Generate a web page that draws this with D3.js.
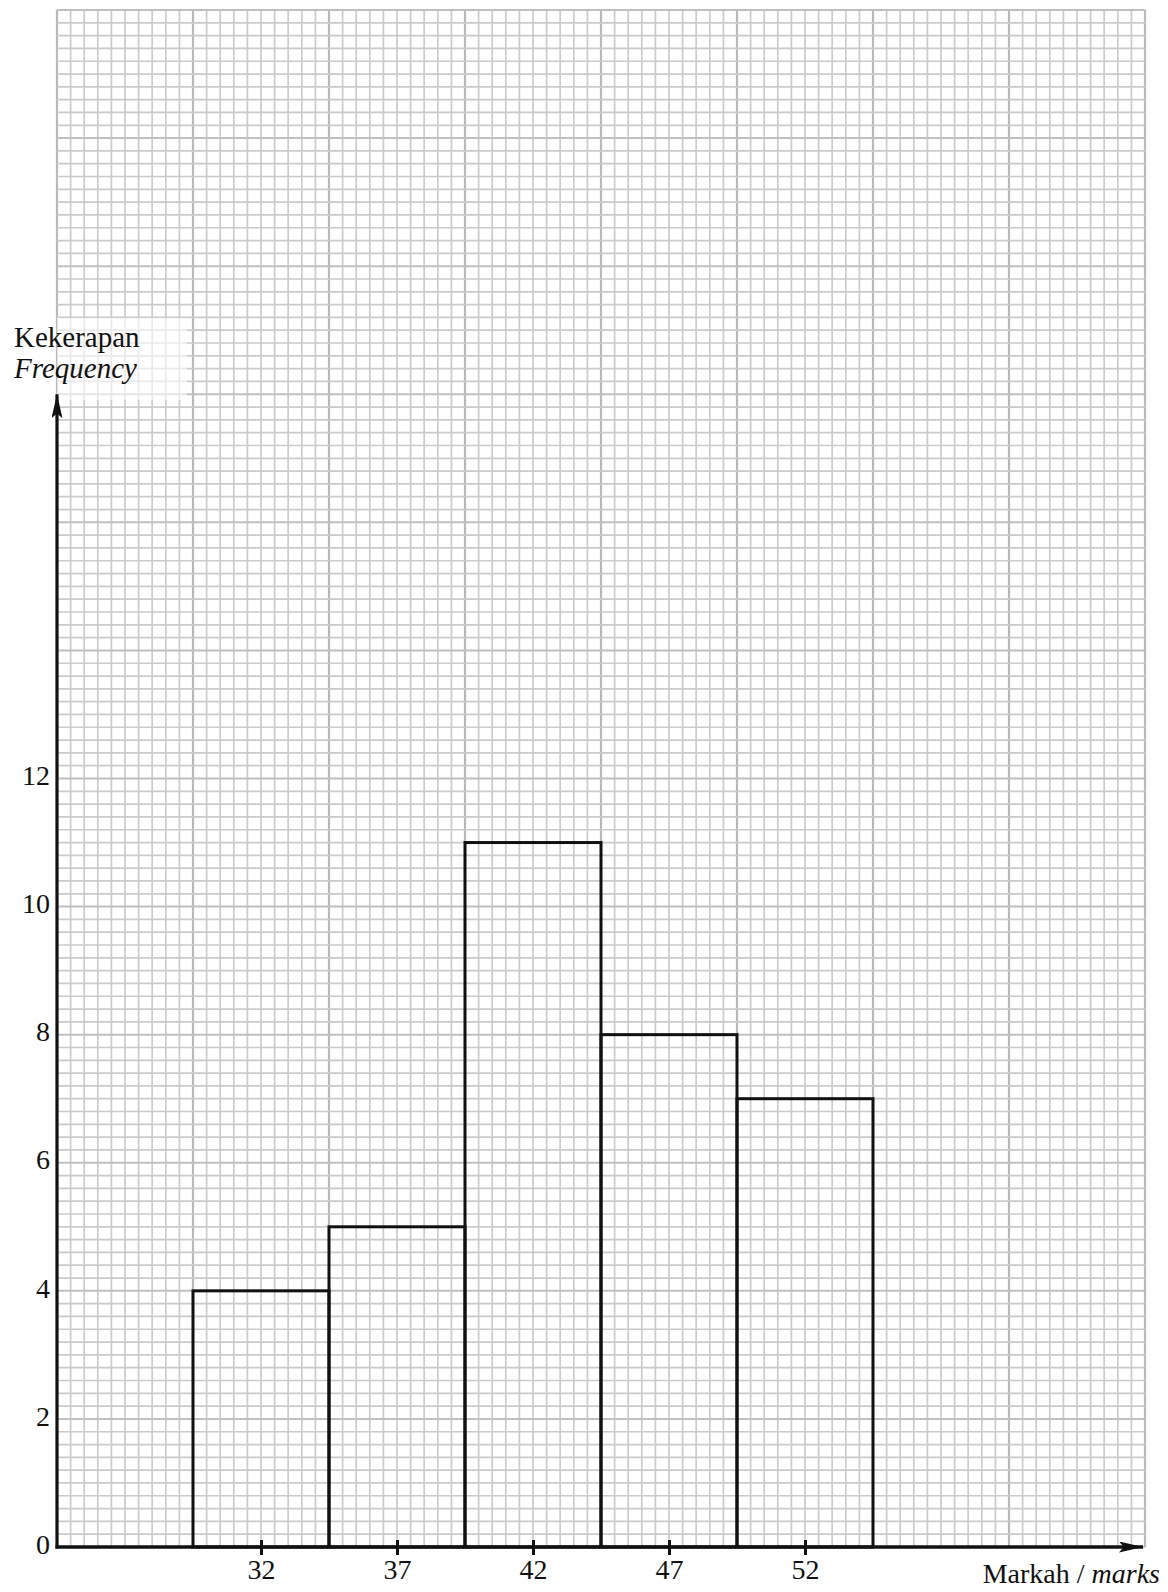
<!DOCTYPE html>
<html lang="ms">
<head>
  <meta charset="UTF-8" />
  <title>Histogram Markah</title>
  <script src="https://d3js.org/d3.v7.min.js"></script>
  <style>
    body { margin: 0; background: #fff; }
    svg { display: block; }
    text { font-family: "Liberation Serif", "DejaVu Serif", serif; fill: #111; }
    .tick text { font-size: 28px; }
  </style>
</head>
<body>
<svg></svg>
<script>
  const classMarks = [32, 37, 42, 47, 52];
  const frequencies = [4, 5, 11, 8, 7];
  const classWidth = 5;
  const yTicks = [0, 2, 4, 6, 8, 10, 12];

  const width = 1168, height = 1592;
  const svg = d3.select("svg").attr("width", width).attr("height", height);

  const x = d3.scaleLinear().domain([24.5, 64.5]).range([57, 1145]);
  const y = d3.scaleLinear().domain([0, 24]).range([1547, 10]);

  // graph paper
  const grid = svg.append("g");
  const xs = d3.range(0, 81).map(i => 24.5 + i * 0.5);
  const ys = d3.range(0, 121).map(i => i * 0.2);

  grid.selectAll(".vx").data(xs).join("line")
    .attr("x1", d => x(d)).attr("x2", d => x(d))
    .attr("y1", y(24)).attr("y2", y(0))
    .attr("stroke", (d, i) => i % 10 === 0 ? "#b9b9b9" : "#cbcbcb")
    .attr("stroke-width", (d, i) => i % 10 === 0 ? 2.2 : 1.7);

  grid.selectAll(".hy").data(ys).join("line")
    .attr("y1", d => y(d)).attr("y2", d => y(d))
    .attr("x1", x(24.5)).attr("x2", x(64.5))
    .attr("stroke", (d, i) => i % 10 === 0 ? "#c0c0c0" : "#cbcbcb")
    .attr("stroke-width", (d, i) => i % 10 === 0 ? 2 : 1.7);

  // faded patch behind the y label
  svg.append("rect")
    .attr("x", 57).attr("y", 318).attr("width", 130).attr("height", 82)
    .attr("fill", "#fff").attr("opacity", 0.6);

  // bars
  svg.append("g").selectAll("rect")
    .data(classMarks)
    .join("rect")
    .attr("x", d => x(d - classWidth / 2))
    .attr("width", x(classWidth) - x(0))
    .attr("y", (d, i) => y(frequencies[i]))
    .attr("height", (d, i) => y(0) - y(frequencies[i]))
    .attr("fill", "none")
    .attr("stroke", "#111")
    .attr("stroke-width", 3);

  // axes
  const yAxis = svg.append("g")
    .attr("transform", `translate(${x(24.5)},0)`)
    .call(d3.axisLeft(y).tickValues(yTicks).tickSize(0).tickPadding(7));
  yAxis.select(".domain").remove();
  yAxis.selectAll(".tick text").attr("dy", "0.22em");

  const xAxis = svg.append("g")
    .attr("transform", `translate(0,${y(0)})`)
    .call(d3.axisBottom(x).tickValues(classMarks).tickSize(8).tickPadding(12));
  xAxis.select(".domain").remove();
  xAxis.selectAll(".tick line").attr("y1", -7).attr("stroke", "#111").attr("stroke-width", 3);
  xAxis.selectAll(".tick text").attr("y", 12);

  svg.append("defs").append("marker")
    .attr("id", "arrow")
    .attr("viewBox", "0 0 10 10")
    .attr("preserveAspectRatio", "none")
    .attr("refX", 10).attr("refY", 5)
    .attr("markerWidth", 24).attr("markerHeight", 11)
    .attr("markerUnits", "userSpaceOnUse")
    .attr("orient", "auto")
    .append("path").attr("d", "M0,0L10,5L0,10L2,5Z").attr("fill", "#111");

  svg.append("line")
    .attr("x1", x(24.5)).attr("x2", x(24.5))
    .attr("y1", y(0) + 1.5).attr("y2", y(18))
    .attr("stroke", "#111").attr("stroke-width", 3.2)
    .attr("marker-end", "url(#arrow)");

  svg.append("line")
    .attr("x1", x(24.5) - 1.5).attr("x2", x(64.5) - 2)
    .attr("y1", y(0)).attr("y2", y(0))
    .attr("stroke", "#111").attr("stroke-width", 3.6)
    .attr("marker-end", "url(#arrow)");

  // axis titles
  const yTitle = svg.append("text").attr("x", 14).attr("y", 347).attr("font-size", 29);
  yTitle.append("tspan").text("Kekerapan");
  yTitle.append("tspan").attr("x", 14).attr("dy", 31).attr("font-style", "italic").text("Frequency");

  const xTitle = svg.append("text")
    .attr("x", 1160).attr("y", 1583)
    .attr("text-anchor", "end").attr("font-size", 28);
  xTitle.append("tspan").text("Markah / ");
  xTitle.append("tspan").attr("font-style", "italic").text("marks");
</script>
</body>
</html>
